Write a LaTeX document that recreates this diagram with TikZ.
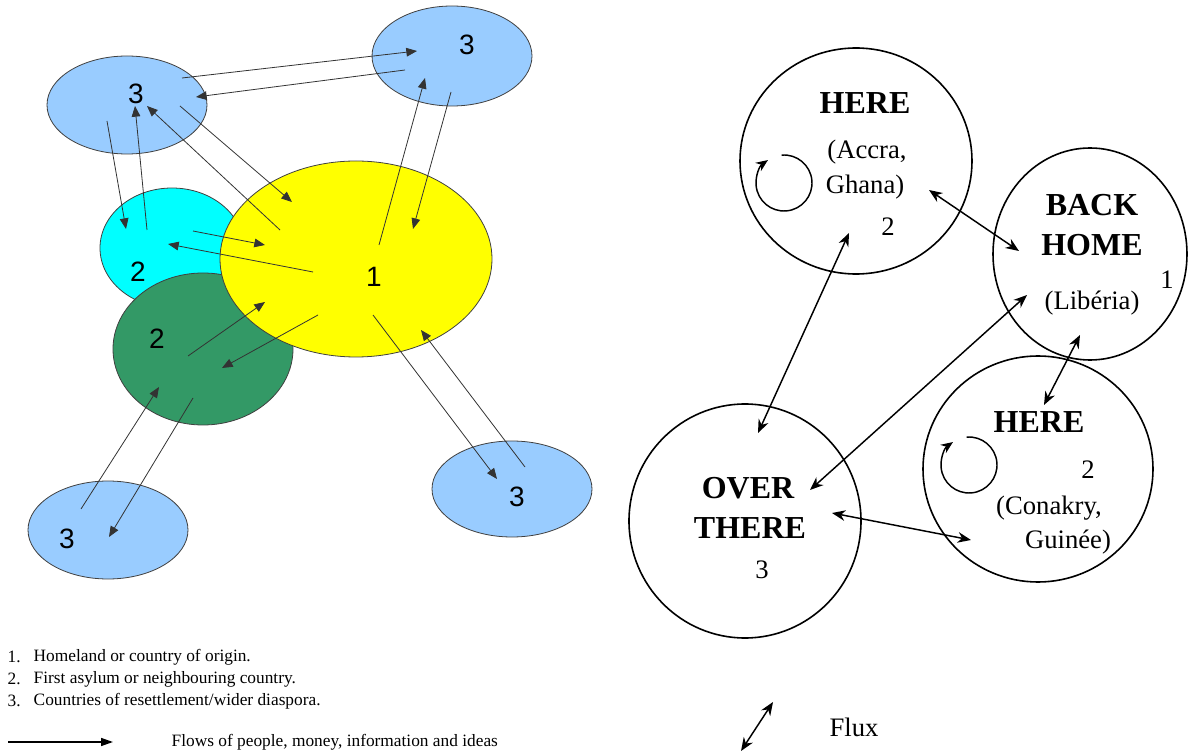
\documentclass[tikz,border=0pt]{standalone}
\usepackage{fontspec}
\setmainfont{Liberation Serif}
\newfontfamily\numfont{Liberation Sans}
\usepackage{tikz}
\usetikzlibrary{positioning,calc,shapes.geometric,arrows.meta}

\definecolor{paleblue}{HTML}{99CCFF}
\definecolor{seagreen}{HTML}{339966}
\definecolor{aqua}{HTML}{00FFFF}
\definecolor{lemon}{HTML}{FFFF00}

\begin{document}
\begin{tikzpicture}[x=0.75pt,y=-0.75pt,
		country/.style={ellipse,draw=black!75,line width=0.6pt,inner sep=0pt},
		flow/.style={-{Triangle[length=8pt,width=6.5pt]},draw=black!80,line width=0.6pt},
		place/.style={ellipse,draw=black,line width=1.2pt,inner sep=0pt},
		flux/.style={{Stealth[length=10pt,width=8pt]}-{Stealth[length=10pt,width=8pt]},line width=1.1pt},
		num/.style={font=\numfont\fontsize{21}{21}\selectfont},
		big/.style={font=\bfseries\fontsize{24}{24}\selectfont},
		txt/.style={font=\fontsize{20}{20}\selectfont},
		legend/.style={anchor=west,font=\fontsize{13}{13}\selectfont}]
		\useasboundingbox (0,0) rectangle (1189,755);
		
		% left: countries
		\node[country,fill=aqua,minimum width=108pt,minimum height=90pt] (cyan) at (172,248) {};
		\node[country,fill=seagreen,minimum width=135pt,minimum height=114pt] (green) at (203,349) {};
		\node[country,fill=lemon,minimum width=204pt,minimum height=147pt] (yellow) at (356,259) {};
		\node[country,fill=paleblue,minimum width=120pt,minimum height=73.5pt] (tl) at (127,105) {};
		\node[country,fill=paleblue,minimum width=120pt,minimum height=75pt] (tr) at (452,56) {};
		\node[country,fill=paleblue,minimum width=120pt,minimum height=73.5pt] (bl) at (108,530) {};
		\node[country,fill=paleblue,minimum width=120pt,minimum height=72pt] (br) at (512,489) {};
		
		\node[num] (ntl) at (136,94) {3};
		\node[num] (ntr) at (467,45) {3};
		\node[num] (ncyan) at (138,272) {2};
		\node[num] (ngreen) at (157,339) {2};
		\node[num] (nyellow) at (374,277) {1};
		\node[num] (nbl) at (67,539) {3};
		\node[num] (nbr) at (517,497) {3};
		
		\draw[flow] ([shift={(55,-27)}]tl.center) -- ([shift={(-35,-5)}]tr.center);
		\draw[flow] ([shift={(-47,14)}]tr.center) -- ([shift={(69,-8)}]tl.center);
		\draw[flow] ([shift={(-20,16)}]tl.center) -- ([shift={(-46,-19)}]cyan.center);
		\draw[flow] ([shift={(-25,-18)}]cyan.center) -- ([shift={(8,1)}]tl.center);
		\draw[flow] ([shift={(-76,-29)}]yellow.center) -- ([shift={(20,1)}]tl.center);
		\draw[flow] ([shift={(53,1)}]tl.center) -- ([shift={(-64,-57)}]yellow.center);
		\draw[flow] ([shift={(23,-14)}]yellow.center) -- ([shift={(-27,22)}]tr.center);
		\draw[flow] ([shift={(-1,36)}]tr.center) -- ([shift={(57,-30)}]yellow.center);
		\draw[flow] ([shift={(21,-17)}]cyan.center) -- ([shift={(-91,-14)}]yellow.center);
		\draw[flow] ([shift={(-43,13)}]yellow.center) -- ([shift={(-4,-4)}]cyan.center);
		\draw[flow] ([shift={(-15,7)}]green.center) -- ([shift={(-91,43)}]yellow.center);
		\draw[flow] ([shift={(-38,56)}]yellow.center) -- ([shift={(19,19)}]green.center);
		\draw[flow] ([shift={(17,56)}]yellow.center) -- ([shift={(-15,-10)}]br.center);
		\draw[flow] ([shift={(13,-22)}]br.center) -- ([shift={(65,71)}]yellow.center);
		\draw[flow] ([shift={(-27,-21)}]bl.center) -- ([shift={(-44,38)}]green.center);
		\draw[flow] ([shift={(-10,49)}]green.center) -- ([shift={(1,7)}]bl.center);
		
		% left: legend
		\node[legend] (l1) at (3,657) {1.};
		\node[legend] (t1) at (29,657) {Homeland or country of origin.};
		\node[legend] (l2) at (3,679) {2.};
		\node[legend] (t2) at (29,679) {First asylum or neighbouring country.};
		\node[legend] (l3) at (3,701) {3.};
		\node[legend] (t3) at (29,701) {Countries of resettlement/wider diaspora.};
		\coordinate (la) at (8,742);
		\coordinate (lb) at (113,742);
		\draw[line width=1.1pt,-{Triangle[length=9pt,width=6pt]}] (la) -- (lb);
		\node[legend] (tflow) at (167,742) {Flows of people, money, information and ideas};
		
		% right: places
		\node[place,minimum width=174pt,minimum height=169.5pt] (here1) at (856,161) {};
		\node[place,minimum width=145.5pt,minimum height=159pt] (back) at (1090,254) {};
		\node[place,minimum width=172.5pt,minimum height=169.5pt] (here2) at (1038,469) {};
		\node[place,minimum width=174pt,minimum height=175.5pt] (over) at (745,521) {};
		
		\node[big] (h1) at (865,103) {HERE};
		\node[txt] (accra) at (867,152) {(Accra,};
		\node[txt] (ghana) at (865,187) {Ghana)};
		\node[txt] (n1) at (888,227) {2};
		\node[big] (bk) at (1092,205) {BACK};
		\node[big] (hm) at (1092,245) {HOME};
		\node[txt] (lib) at (1092,303) {(Libéria)};
		\node[txt] (n2) at (1167,280) {1};
		\node[big] (h2) at (1039,422) {HERE};
		\node[txt] (n3) at (1088,470) {2};
		\node[txt] (cona) at (1049,508) {(Conakry,};
		\node[txt] (guin) at (1068,542) {Guinée)};
		\node[big] (ov) at (748,488) {OVER};
		\node[big] (th) at (750,528) {THERE};
		\node[txt] (n4) at (762,570) {3};
		
		\coordinate (lp1) at (784,183);
		\coordinate (lp2) at (969,465);
		\draw[line width=1.1pt,-{Stealth[length=9pt,width=7.5pt]}] ([shift={(95:21pt)}]lp1) arc[start angle=95,end angle=-235,radius=21pt];
		\draw[line width=1.1pt,-{Stealth[length=9pt,width=7.5pt]}] ([shift={(95:21pt)}]lp2) arc[start angle=95,end angle=-235,radius=21pt];
		
		\draw[flux] ([shift={(73,29)}]here1.center) -- ([shift={(-71,-3)}]back.center);
		\draw[flux] ([shift={(-7,72)}]here1.center) -- ([shift={(13,-88)}]over.center);
		\draw[flux] ([shift={(-63,41)}]back.center) -- ([shift={(65,-31)}]over.center);
		\draw[flux] ([shift={(-10,81)}]back.center) -- ([shift={(6,-64)}]here2.center);
		\draw[flux] ([shift={(87,-8)}]over.center) -- ([shift={(-67,71)}]here2.center);
		
		% right: legend
		\coordinate (fa) at (773,702);
		\coordinate (fb) at (741,751);
		\draw[flux] (fa) -- (fb);
		\node[txt] (flux) at (854,727) {Flux};
	\end{tikzpicture}
\end{document}
